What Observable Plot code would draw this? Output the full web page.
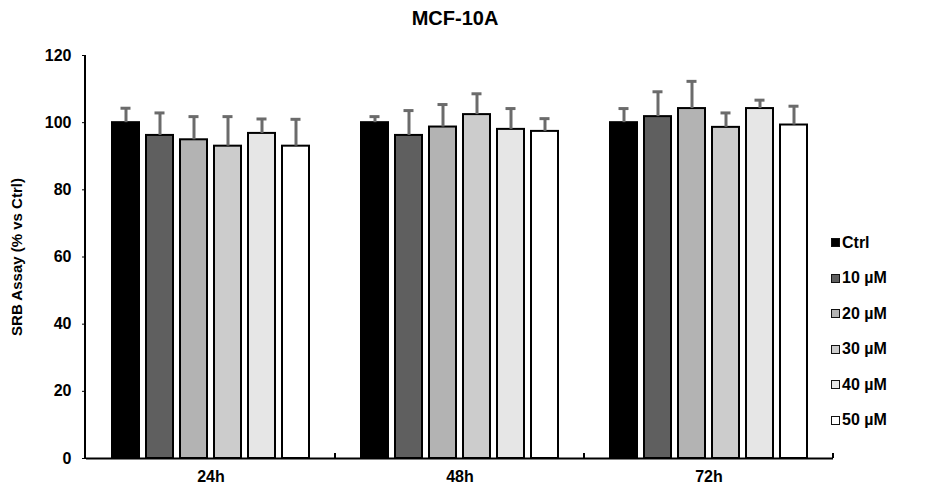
<!DOCTYPE html>
<html>
<head>
<meta charset="utf-8">
<script src="https://cdn.jsdelivr.net/npm/d3@7"></script>
<script src="https://cdn.jsdelivr.net/npm/@observablehq/plot@0.6"></script>
<style>
  body { margin: 0; background: #fff; font-family: "Liberation Sans", Arial, sans-serif; }
  #wrap { position: relative; width: 941px; height: 501px; }
  #title { position: absolute; left: 0; width: 910px; top: 7px; text-align: center;
           font-weight: bold; font-size: 20px; color: #000; }
  #legend { position: absolute; left: 831px; top: 225px; }
  .row { display: flex; align-items: center; height: 35.5px; font-weight: bold; font-size: 16px; color: #000; }
  .row .sw { width: 7px; height: 7px; border: 1px solid #111; margin-right: 2px; }
  .axis-label text { font-size: 15px; }
</style>
</head>
<body>
<div id="wrap">
  <div id="title">MCF-10A</div>
  <div id="legend"></div>
</div>
<script>
// Time points and treatment groups
const times = ["24h", "48h", "72h"];
const doses = ["Ctrl", "10 µM", "20 µM", "30 µM", "40 µM", "50 µM"];
const fills = ["#000000", "#5f5f5f", "#b3b3b3", "#cccccc", "#e6e6e6", "#ffffff"];
const yTicks = [0, 20, 40, 60, 80, 100, 120];

// SRB assay means (% of control) per time point, in dose order
const mean24 = [100.0, 96.2, 94.9, 93.0, 96.8, 93.0];
const mean48 = [100.0, 96.2, 98.7, 102.4, 98.0, 97.4];
const mean72 = [100.0, 101.8, 104.2, 98.6, 104.2, 99.3];

// Standard deviations, in dose order
const sd24 = [4.3, 6.7, 6.9, 8.8, 4.3, 8.0];
const sd48 = [1.8, 7.4, 6.7, 6.2, 6.2, 3.8];
const sd72 = [4.2, 7.4, 8.1, 4.3, 2.5, 5.6];

const means = [mean24, mean48, mean72];
const sds = [sd24, sd48, sd72];
const rows = times.flatMap((time, i) =>
  doses.map((dose, j) => ({time, dose, mean: means[i][j], sd: sds[i][j]}))
);

const errColor = "#6b6b6b";

const chart = Plot.plot({
  width: 941,
  height: 501,
  marginLeft: 85,
  marginRight: 107,
  marginTop: 55,
  marginBottom: 43,
  style: {
    fontFamily: "'Liberation Sans', Arial, sans-serif",
    fontSize: "16px",
    fontWeight: "bold",
    color: "#000",
    background: "transparent"
  },
  fx: {domain: times, padding: 0, label: null, axis: "bottom", tickSize: 0, tickPadding: 12},
  x: {domain: doses, paddingInner: 0.2, paddingOuter: 0.76, axis: null},
  y: {
    domain: [0, 120],
    ticks: yTicks,
    tickSize: 4,
    tickPadding: 11,
    label: "SRB Assay (% vs Ctrl)",
    labelAnchor: "center",
    labelArrow: "none",
    labelOffset: 75
  },
  color: {domain: doses, range: fills},
  marks: [
    Plot.barY(rows, {fx: "time", x: "dose", y: "mean", fill: "dose", stroke: "#000", strokeWidth: 2}),
    Plot.ruleX(rows, {fx: "time", x: "dose", y1: "mean", y2: d => d.mean + d.sd, stroke: errColor, strokeWidth: 3}),
    Plot.tickY(rows, {fx: "time", x: "dose", y: d => d.mean + d.sd, stroke: errColor, strokeWidth: 3, insetLeft: 8.5, insetRight: 8.5}),
    Plot.ruleY([0], {stroke: "#000", strokeWidth: 2})
  ]
});

document.getElementById("wrap").prepend(chart);

// Vertical value axis line and the group boundary ticks on the category axis
const fx = chart.scale("fx");
const y = chart.scale("y");
const svg = d3.select(chart);
svg.selectAll("[aria-label='y-axis label'] text, g[aria-label='y-axis label']").style("font-size", "15px");
const x0 = fx.range[0];
svg.append("line")
  .attr("x1", x0).attr("x2", x0)
  .attr("y1", y.apply(0) + 1).attr("y2", y.apply(120))
  .attr("stroke", "#000").attr("stroke-width", 2);
svg.append("g").selectAll("line")
  .data(times)
  .join("line")
  .attr("x1", t => fx.apply(t) + fx.bandwidth)
  .attr("x2", t => fx.apply(t) + fx.bandwidth)
  .attr("y1", y.apply(0))
  .attr("y2", y.apply(0) - 5)
  .attr("stroke", "#000").attr("stroke-width", 2);

// Legend
const legend = d3.select("#legend");
doses.forEach((dose, j) => {
  const row = legend.append("div").attr("class", "row");
  row.append("div").attr("class", "sw").style("background", fills[j]);
  row.append("div").text(dose);
});
</script>
</body>
</html>
